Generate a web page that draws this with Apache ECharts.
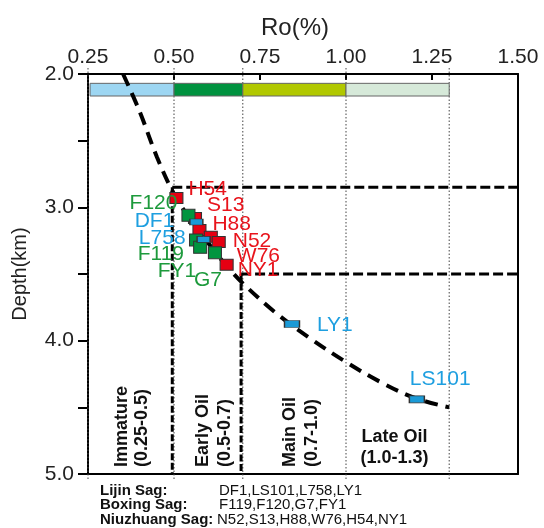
<!DOCTYPE html>
<html><head><meta charset="utf-8">
<script src="https://cdn.jsdelivr.net/npm/echarts@6/dist/echarts.min.js"></script>
<style>html,body{margin:0;padding:0;background:#fff}#chart{width:544px;height:528px}</style>
</head><body><div id="chart"></div>
<script>
// ---------- data ----------
const roTicks = [0.25, 0.5, 0.75, 1.0, 1.25, 1.5];
const depthTickLabels = [2.0, 3.0, 4.0, 5.0];
const zoneBounds = [0.25, 0.5, 0.7, 1.0, 1.3];
const zoneNames = ['Immature', 'Early Oil', 'Main Oil', 'Late Oil'];
const zoneRanges = ['(0.25-0.5)', '(0.5-0.7)', '(0.7-1.0)', '(1.0-1.3)'];
const zoneColors = ['#9dd6f2', '#00923f', '#b1c800', '#d6e9d9'];
const windowRo = [0.495, 0.695];      // oil window boundary Ro
const windowDepth = [2.85, 3.5];      // oil window boundary depth (km)

const trendRo    = [0.352, 0.40, 0.45, 0.50, 0.55, 0.60, 0.65, 0.70, 0.80, 0.90, 1.00, 1.10, 1.20, 1.30];
const trendDepth = [2.00, 2.28, 2.62, 2.90, 3.10, 3.27, 3.43, 3.57, 3.80, 3.99, 4.16, 4.31, 4.43, 4.50];

const niuzhuangWells = ['H54', 'S13', 'H88', 'W76', 'N52', 'NY1'];
const niuzhuangRo    = [0.507, 0.561, 0.574, 0.607, 0.630, 0.653];
const niuzhuangDepth = [2.93, 3.08, 3.17, 3.22, 3.26, 3.43];

const boxingWells = ['F120', 'F119', 'FY1', 'G7'];
const boxingRo    = [0.542, 0.564, 0.576, 0.619];
const boxingDepth = [3.06, 3.245, 3.30, 3.34];

const lijinWells = ['DF1', 'L758', 'LY1', 'LS101'];
const lijinRo    = [0.565, 0.586, 0.843, 1.206];
const lijinDepth = [3.11, 3.24, 3.875, 4.44];

const sagNames = ['Lijin Sag:', 'Boxing Sag:', 'Niuzhuang Sag:'];

// ---------- styling / placement ----------
const FONT = '"Liberation Sans", Arial, Helvetica, sans-serif';
const labelPlace = {
  H54: [12, -9, 'left'], S13: [12, -13, 'left'], H88: [13, -6, 'left'], W76: [26, 20, 'left'],
  N52: [14, -1, 'left'], NY1: [11, 6, 'left'],
  F120: [-11, -12, 'right'], F119: [-12, 14, 'right'], FY1: [-4, 24, 'right'], G7: [-21, 28, 'left'],
  DF1: [-22, -1, 'right'], L758: [-18, -1, 'right'], LY1: [25, 1, 'left'], LS101: [-7, -20, 'left']
};
const bigMarkers = ['LY1', 'LS101'];
const zoneShift = [[-9, 11], [-5, 17], [-4, 18], [-3]];
const legendOrder = [['DF1','LS101','L758','LY1'], ['F119','F120','G7','FY1'], ['N52','S13','H88','W76','H54','NY1']];

function wellSeries(wells, ro, depth, fill, textColor, size) {
  return {
    type: 'scatter', xAxisIndex: 0, yAxisIndex: 0, symbol: 'rect',
    itemStyle: { color: fill, borderColor: '#333', borderWidth: 1, opacity: 1 },
    data: wells.map((w, i) => {
      const p = labelPlace[w];
      return {
        name: w, value: [ro[i], depth[i]],
        symbolSize: size(w),
        label: { show: true, position: 'inside', formatter: w, offset: [p[0], p[1]], align: p[2],
                 verticalAlign: 'middle', color: textColor, fontSize: 21, fontFamily: FONT }
      };
    }),
    z: 5
  };
}

const series = [];
// dotted zone boundaries (extend slightly past the frame)
zoneBounds.forEach(b => {
  series.push({ type: 'line', xAxisIndex: 0, yAxisIndex: 0, clip: false, symbol: 'none', silent: true,
    data: [[b, 1.955], [b, 5.045]], lineStyle: { color: '#444', width: 1, type: [1.5, 2] }, z: 1 });
});
// colour bar
series.push({ type: 'custom', xAxisIndex: 0, yAxisIndex: 0, z: 2,
  data: zoneColors.map((c, i) => [i]),
  renderItem: (params, api) => {
    const i = api.value(0);
    const a = api.coord([zoneBounds[i] + (i === 0 ? 0.006 : 0), 2.07]);
    const b = api.coord([zoneBounds[i + 1], 2.165]);
    return { type: 'rect', shape: { x: a[0], y: a[1], width: b[0] - a[0], height: b[1] - a[1] },
      style: { fill: zoneColors[i], stroke: '#666', lineWidth: 1 } };
  }
});
// zone labels
series.push({ type: 'custom', xAxisIndex: 0, yAxisIndex: 0, z: 3,
  data: zoneNames.map((n, i) => [i]),
  renderItem: (params, api) => {
    const i = api.value(0);
    const p = api.coord([(zoneBounds[i] + zoneBounds[i + 1]) / 2, 5.0]);
    const font = 'bold 18px ' + FONT;
    if (i < 3) {
      return { type: 'group', children: [
        { type: 'text', x: p[0] + zoneShift[i][0], y: p[1] - 7, rotation: Math.PI / 2,
          style: { text: zoneNames[i], font, fill: '#111', align: 'left', verticalAlign: 'middle' } },
        { type: 'text', x: p[0] + zoneShift[i][1], y: p[1] - 7, rotation: Math.PI / 2,
          style: { text: zoneRanges[i], font, fill: '#111', align: 'left', verticalAlign: 'middle' } }
      ]};
    }
    return { type: 'group', children: [
      { type: 'text', x: p[0] + zoneShift[i][0], y: p[1] - 37,
        style: { text: zoneNames[i], font, fill: '#111', align: 'center', verticalAlign: 'middle' } },
      { type: 'text', x: p[0] + zoneShift[i][0], y: p[1] - 16,
        style: { text: zoneRanges[i], font, fill: '#111', align: 'center', verticalAlign: 'middle' } }
    ]};
  }
});
// oil window dashed boundaries
series.push({ type: 'line', xAxisIndex: 0, yAxisIndex: 0, symbol: 'none', silent: true, z: 3,
  data: [[windowRo[0], windowDepth[0]], [1.5, windowDepth[0]]], lineStyle: { color: '#000', width: 3, type: [10, 4] } });
series.push({ type: 'line', xAxisIndex: 0, yAxisIndex: 0, symbol: 'none', silent: true, z: 3,
  data: [[windowRo[1], windowDepth[1]], [1.5, windowDepth[1]]], lineStyle: { color: '#000', width: 3, type: [10, 4] } });
series.push({ type: 'line', xAxisIndex: 0, yAxisIndex: 0, symbol: 'none', silent: true, z: 3,
  data: [[windowRo[0], windowDepth[0]], [windowRo[0], 5.0]], lineStyle: { color: '#000', width: 3, type: [7, 2.5] } });
series.push({ type: 'line', xAxisIndex: 0, yAxisIndex: 0, symbol: 'none', silent: true, z: 3,
  data: [[windowRo[1], windowDepth[1]], [windowRo[1], 5.0]], lineStyle: { color: '#000', width: 3, type: [7, 2.5] } });
// trend curve
series.push({ type: 'line', xAxisIndex: 0, yAxisIndex: 0, symbol: 'none', smooth: 0.35, silent: true, z: 4,
  data: trendRo.map((r, i) => [r, trendDepth[i]]),
  lineStyle: { color: '#000', width: 4, type: [13, 8] } });
// wells
series.push(wellSeries(niuzhuangWells, niuzhuangRo, niuzhuangDepth, '#e50012', '#e8141c', w => [13, 11]));
series.push(wellSeries(boxingWells, boxingRo, boxingDepth, '#00953f', '#1d9a3c', w => [13, 12]));
series.push(wellSeries(lijinWells, lijinRo, lijinDepth, '#1a9ad7', '#1e9fe0', w => bigMarkers.includes(w) ? [15, 7] : [13, 6]));

const legendGraphics = [];
sagNames.forEach((s, i) => {
  const cy = [491, 505, 520][i];
  legendGraphics.push({ type: 'text', left: 100, top: cy - 8,
    style: { text: s, font: 'bold 15px ' + FONT, fill: '#111' } });
  legendGraphics.push({ type: 'text', left: i === 2 ? 217 : 219, top: cy - 8,
    style: { text: legendOrder[i].join(','), font: '15px ' + FONT, fill: '#111' } });
});

const chart = echarts.init(document.getElementById('chart'), null, { renderer: 'canvas' });
chart.setOption({
  animation: false,
  backgroundColor: '#fff',
  grid: { left: 88, right: 26, top: 74, bottom: 54, containLabel: false },
  xAxis: [
    { type: 'value', position: 'top', min: roTicks[0], max: roTicks[roTicks.length - 1], interval: 0.25,
      name: 'Ro(%)', nameLocation: 'middle', nameGap: 34,
      nameTextStyle: { fontSize: 24, color: '#222', fontFamily: FONT, padding: [0, 16, 0, 0] },
      axisLine: { show: true, onZero: false, lineStyle: { color: '#000', width: 2 } },
      axisTick: { show: true, inside: true, length: 6, lineStyle: { color: '#000', width: 2 } },
      axisLabel: { fontSize: 21, color: '#222', fontFamily: FONT, margin: 6, formatter: v => v.toFixed(2),
                   showMinLabel: true, showMaxLabel: true },
      splitLine: { show: false } },
    { type: 'value', position: 'bottom', min: roTicks[0], max: roTicks[roTicks.length - 1], interval: 0.25,
      axisLine: { show: true, onZero: false, lineStyle: { color: '#000', width: 2 } },
      axisTick: { show: false }, axisLabel: { show: false }, splitLine: { show: false } }
  ],
  yAxis: [
    { type: 'value', inverse: true, position: 'left', min: 2, max: 5, interval: 0.5,
      name: 'Depth(km)', nameLocation: 'middle', nameGap: 58,
      nameTextStyle: { fontSize: 20, color: '#222', fontFamily: FONT },
      axisLine: { show: true, onZero: false, lineStyle: { color: '#000', width: 2 } },
      axisTick: { show: true, inside: false, length: 10, lineStyle: { color: '#000', width: 2 } },
      axisLabel: { fontSize: 21, color: '#222', fontFamily: FONT, margin: 14,
                   formatter: v => depthTickLabels.includes(v) ? v.toFixed(1) : '' },
      splitLine: { show: false } },
    { type: 'value', inverse: true, position: 'right', min: 2, max: 5, interval: 0.5,
      axisLine: { show: true, onZero: false, lineStyle: { color: '#000', width: 2 } },
      axisTick: { show: false }, axisLabel: { show: false }, splitLine: { show: false } }
  ],
  graphic: legendGraphics,
  series
});
</script></body></html>
